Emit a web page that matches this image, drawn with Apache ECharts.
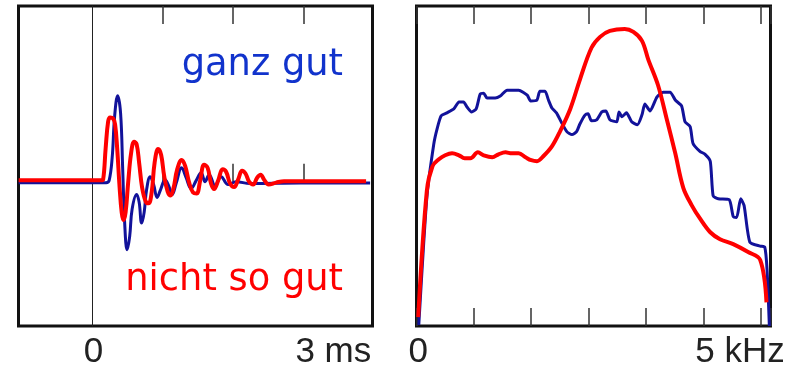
<!DOCTYPE html>
<html>
<head>
<meta charset="utf-8">
<script src="https://cdn.jsdelivr.net/npm/echarts@6/dist/echarts.min.js"></script>
<style>
html,body{margin:0;padding:0;background:#fff;}
#chart{width:802px;height:370px;}
</style>
</head>
<body>
<div id="chart"></div>
<script>
// ---- Left panel: impulse response (time in ms, amplitude in arbitrary units) ----
const goodTime = [-1.038,0.203,0.245,0.288,0.323,0.366,0.408,0.437,0.465,0.500,0.536,0.571,0.635,0.671,0.706,0.742,0.777,0.827,0.876,0.926,0.975,1.039,1.089,1.139,1.195,1.273,1.337,1.408,1.479,1.550,1.606,1.663,1.748,1.833,1.933,2.046,2.244,2.953,3.946];
const goodAmp  = [-1,-1,1,24,66,87,69,14,-41,-69,-56,-28,-13,-21,-42,-31,-8,5,-3,-16,-8,2,-4,-13,-2,14,4,-7,1,9,0,7,-4,5,-3,0,-2,-1.5,-1.5];

const badTime = [-1.038,0.132,0.160,0.196,0.231,0.259,0.302,0.330,0.359,0.394,0.423,0.448,0.479,0.515,0.557,0.600,0.635,0.671,0.713,0.763,0.805,0.848,0.890,0.940,0.983,1.025,1.075,1.117,1.160,1.209,1.273,1.323,1.380,1.436,1.486,1.536,1.592,1.642,1.691,1.734,1.791,1.855,1.904,1.961,2.018,2.074,2.131,2.181,2.230,2.287,2.344,2.393,2.443,2.507,2.613,2.726,2.953,3.889];
const badAmp  = [1.3,1.3,2,34,61,65,64,58,34,-6,-31,-39,-31,-1,29,40.5,38,19,-6,-20,-22,-11,19,33,27,6,-10,-14,-6,12,22,16,-1,-11,-12,1,17,14,-2,-7.5,1,12.5,10,-2,-5.5,2,11,8,0,-3,4,7,2,-3,-1,0.5,0.5,0.5];

// ---- Right panel: spectrum (frequency in kHz, level in arbitrary units) ----
const goodFreq  = [0.04,0.18,0.30,0.36,0.43,0.53,0.65,0.74,0.82,0.88,0.96,1.04,1.11,1.17,1.23,1.37,1.46,1.58,1.78,1.93,1.99,2.10,2.15,2.24,2.30,2.36,2.44,2.53,2.62,2.71,2.79,2.85,2.94,2.99,3.05,3.14,3.23,3.30,3.37,3.49,3.53,3.58,3.66,3.75,3.85,3.93,3.98,4.07,4.19,4.30,4.42,4.51,4.62,4.68,4.77,4.82,4.94,5.03,5.12,5.17,5.26,5.45,5.52,5.58,5.65,5.71,5.81,5.99,6.07,6.11,6.15];
const goodLevel = [1,130,184,200,213,216,220,227,227,222,217,220,235,236,231,231,233,239,239,234,228,229,238,238,229,221,216,206,197,194,197,205,214,215,208,209,217,218,209,207,217,212,216,207,204,214,225,218,232,237,237,229,223,207,202,185,177,174,167,132,129,128,111,110,129,122,85,81,80,57,0];

const badFreq  = [0.03,0.18,0.28,0.39,0.50,0.62,0.74,0.84,0.94,1.07,1.17,1.32,1.43,1.55,1.66,1.78,1.90,2.00,2.10,2.21,2.36,2.50,2.68,2.85,3.05,3.20,3.37,3.63,3.78,3.93,4.04,4.21,4.36,4.51,4.65,4.80,4.94,5.12,5.29,5.52,5.78,5.99,6.10];
const badLevel = [9,137,162,169,173,175,173,170,170,176,173,171,174,176,175,175,171,168,167,172,182,197,220,250,282,293,299,301,298,289,270,244,210,175,140,122,109,95,88,83,75,67,24];

// ---- Ticks and labels ----
const timeTicks = [1, 2, 3];
const timeLabelValues = [0, 3];
const timeLabelTexts = ['0', '3 ms'];
const freqLabelValues = [0, 5];
const freqLabelTexts = ['0', '5 kHz'];
const seriesNames = ['ganz gut', 'nicht so gut'];

const zip = (a, b) => a.map((v, i) => [v, b[i]]);

const BLUE = '#12129a';
const RED = '#ff0000';
const TICK = {show: true, inside: true, length: 18, lineStyle: {color: '#333', width: 1.5}};
const LABEL_FONT = {fontFamily: 'Liberation Sans', fontSize: 35, color: '#222'};

const chart = echarts.init(document.getElementById('chart'), null, {renderer: 'canvas'});
chart.setOption({
  animation: false,
  backgroundColor: '#fff',
  grid: [
    {left: 18.5, top: 6, width: 354, height: 324.3, show: true, borderColor: '#111', borderWidth: 3, containLabel: false},
    {left: 416.5, top: 6, width: 354, height: 324.3, show: true, borderColor: '#111', borderWidth: 3, containLabel: false}
  ],
  xAxis: [
    {gridIndex: 0, type: 'value', position: 'bottom', min: -1.04, max: 3.98,
      axisLine: {show: false}, splitLine: {show: false},
      axisTick: Object.assign({customValues: timeTicks}, TICK),
      axisLabel: Object.assign({customValues: timeLabelValues, margin: 9, align: 'left', padding: [0, 0, 0, -8],
        formatter: v => timeLabelTexts[timeLabelValues.indexOf(v)]}, LABEL_FONT)},
    {gridIndex: 0, type: 'value', position: 'top', min: -1.04, max: 3.98,
      axisLine: {show: false}, splitLine: {show: false}, axisLabel: {show: false},
      axisTick: Object.assign({customValues: timeTicks}, TICK)},
    {gridIndex: 1, type: 'value', position: 'bottom', min: 0, max: 6.17, interval: 1,
      axisLine: {show: false}, splitLine: {show: false},
      axisTick: TICK,
      axisLabel: Object.assign({customValues: freqLabelValues, margin: 9, align: 'left', padding: [0, 0, 0, -8],
        formatter: v => freqLabelTexts[freqLabelValues.indexOf(v)]}, LABEL_FONT)},
    {gridIndex: 1, type: 'value', position: 'top', min: 0, max: 6.17, interval: 1,
      axisLine: {show: false}, splitLine: {show: false}, axisLabel: {show: false},
      axisTick: TICK}
  ],
  yAxis: [
    {gridIndex: 0, type: 'value', min: -146.3, max: 178,
      axisLine: {show: true, onZero: true, lineStyle: {color: '#222', width: 1}},
      axisTick: {show: false}, axisLabel: {show: false}, splitLine: {show: false}},
    {gridIndex: 1, type: 'value', min: 0, max: 324.3,
      axisLine: {show: false}, axisTick: {show: false}, axisLabel: {show: false}, splitLine: {show: false}}
  ],
  series: [
    {name: seriesNames[0], type: 'line', xAxisIndex: 0, yAxisIndex: 0, data: zip(goodTime, goodAmp),
      showSymbol: false, smooth: 0.4, lineStyle: {color: BLUE, width: 3}, z: 2},
    {name: seriesNames[1], type: 'line', xAxisIndex: 0, yAxisIndex: 0, data: zip(badTime, badAmp),
      showSymbol: false, smooth: 0.4, lineStyle: {color: RED, width: 4}, z: 3},
    {name: seriesNames[0], type: 'line', xAxisIndex: 2, yAxisIndex: 1, data: zip(goodFreq, goodLevel),
      showSymbol: false, smooth: 0.2, lineStyle: {color: BLUE, width: 3}, z: 2},
    {name: seriesNames[1], type: 'line', xAxisIndex: 2, yAxisIndex: 1, data: zip(badFreq, badLevel),
      showSymbol: false, smooth: 0.35, lineStyle: {color: RED, width: 4}, z: 3}
  ],
  graphic: [
    {type: 'text', x: 343, y: 65, style: {text: seriesNames[0], align: 'right', verticalAlign: 'middle',
      font: '36.8px "DejaVu Sans"', fill: '#1133cc'}},
    {type: 'text', x: 343, y: 280, style: {text: seriesNames[1], align: 'right', verticalAlign: 'middle',
      font: '36.8px "DejaVu Sans"', fill: RED}}
  ]
});
</script>
</body>
</html>
